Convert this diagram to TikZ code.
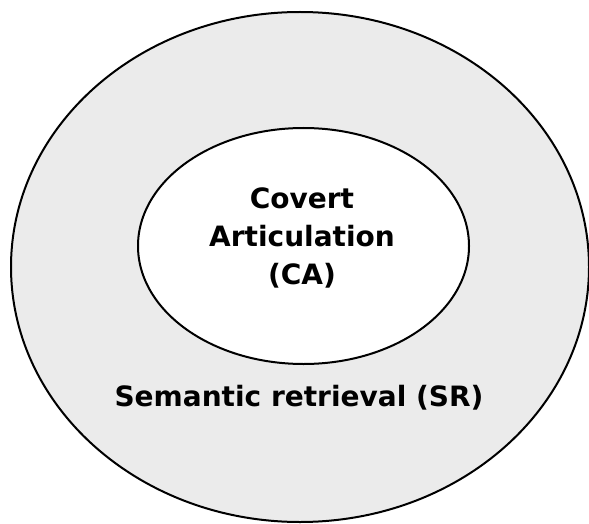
\documentclass[tikz,border=0pt]{standalone}
\usepackage{fontspec}
\setmainfont{DejaVu Sans}
\usepackage{tikz}
\usetikzlibrary{positioning, shapes.geometric}

\begin{document}
\begin{tikzpicture}[
x=1pt, y=-1pt,
myellipse/.style={ellipse,
  draw=black,
  line width=2pt,
  inner sep=0pt,
},
mylabel/.style={
  font=\fontsize{28}{38}\selectfont\bfseries,
  align=center,
  inner sep=0pt,
},
]
\useasboundingbox (0,0) rectangle (589,524);

\node[myellipse, fill=black!8, minimum width=578pt, minimum height=510pt] (sr)
    at (300,267) {};
\node[myellipse, fill=white, minimum width=331pt, minimum height=236pt] (ca)
    at (303.5,246) {};

\node[mylabel] (catext) at (302,238)
    {Covert\\Articulation\\(CA)};
\node[mylabel] (srtext) at (299,398)
    {Semantic retrieval (SR)};
\end{tikzpicture}
\end{document}
